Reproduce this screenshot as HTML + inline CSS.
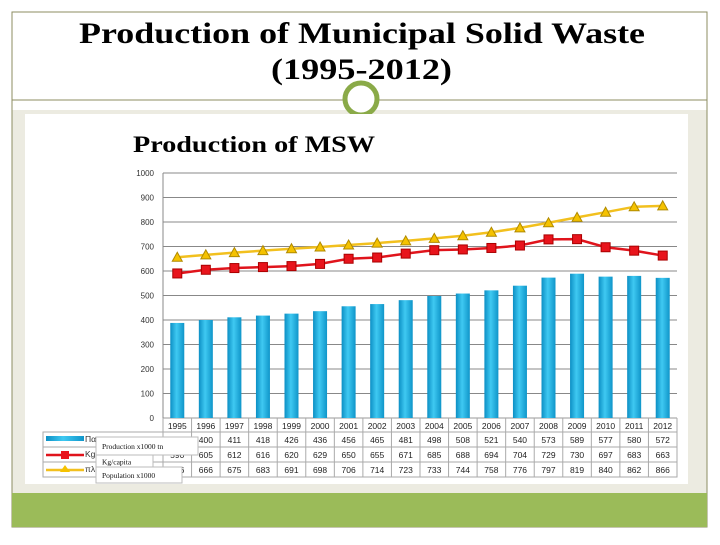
<!DOCTYPE html>
<html><head><meta charset="utf-8"><style>
body{margin:0;width:720px;height:540px;background:#fff;overflow:hidden;font-family:"Liberation Sans",sans-serif}
</style></head><body>
<svg width="720" height="540" xmlns="http://www.w3.org/2000/svg">
<defs>
<linearGradient id="bg" x1="0" x2="1"><stop offset="0" stop-color="#0c8fc4"/><stop offset="0.45" stop-color="#3fc9f2"/><stop offset="1" stop-color="#0f95c9"/></linearGradient>
</defs>
<rect x="12" y="12" width="695" height="515" fill="#fff" stroke="#8c8c62" stroke-width="1"/>
<rect x="12.5" y="110" width="694" height="383" fill="#ecebe1"/>
<rect x="12" y="493" width="695" height="34" fill="#9bbb59"/>
<line x1="12" y1="100" x2="707" y2="100" stroke="#8c8c62"/>
<circle cx="361" cy="99" r="16" fill="#fff" stroke="#8aaa48" stroke-width="5"/>
<text x="79" y="43" textLength="566" lengthAdjust="spacingAndGlyphs" font-family="Liberation Serif, serif" font-weight="bold" font-size="30">Production of Municipal Solid Waste</text>
<text x="271" y="79" textLength="181" lengthAdjust="spacingAndGlyphs" font-family="Liberation Serif, serif" font-weight="bold" font-size="30">(1995-2012)</text>
<rect x="25" y="114" width="663" height="370" fill="#fff"/>
<text x="133" y="152" textLength="242" lengthAdjust="spacingAndGlyphs" font-family="Liberation Serif, serif" font-weight="bold" font-size="23">Production of MSW</text>
<g id="chart"></g>
</svg>
<script>
const years=["1995","1996","1997","1998","1999","2000","2001","2002","2003","2004","2005","2006","2007","2008","2009","2010","2011","2012"];
const production=[388,400,411,418,426,436,456,465,481,498,508,521,540,573,589,577,580,572];
const kgCapita=[590,605,612,616,620,629,650,655,671,685,688,694,704,729,730,697,683,663];
const population=[656,666,675,683,691,698,706,714,723,733,744,758,776,797,819,840,862,866];
const yTicks=[0,100,200,300,400,500,600,700,800,900,1000];
const NS="http://www.w3.org/2000/svg";
const g=document.getElementById('chart');
const L=163,R=677,T=173,B=418;
const bw=(R-L)/years.length;
const x=i=>L+bw*(i+0.5);
const y=v=>B-(v/1000)*(B-T);
function el(t,a,p){const e=document.createElementNS(NS,t);for(const k in a)e.setAttribute(k,a[k]);(p||g).appendChild(e);return e;}
yTicks.forEach(v=>{
  const ln=el('line',{x1:L,x2:R,y1:y(v),y2:y(v),stroke:v===0?'#999':'#888','stroke-width':1});
  
  
  const t=el('text',{x:L-9,y:y(v)+3,'text-anchor':'end','font-size':8,fill:'#333'});t.textContent=v;
  
  
});
const ax=el('line',{x1:L,x2:L,y1:T,y2:B,stroke:'#888'});


production.forEach((v,i)=>{
  const r=el('rect',{x:x(i)-7,y:y(v),width:14,height:B-y(v),fill:'url(#bg)'});
  
  
});
function line(vals,color,name,marker){
  const p=el('polyline',{points:vals.map((v,i)=>x(i)+','+y(v)).join(' '),fill:'none',stroke:color,'stroke-width':2.5});
  
  
  vals.forEach((v,i)=>{
    let m;
    if(marker==='sq') m=el('rect',{x:x(i)-4.5,y:y(v)-4.5,width:9,height:9,fill:'#e8141c',stroke:'#a00'});
    else m=el('polygon',{points:`${x(i)},${y(v)-5} ${x(i)+5},${y(v)+4} ${x(i)-5},${y(v)+4}`,fill:'#f5c200',stroke:'#b08a00'});
    
    
  });
}
line(population,'#f2c01e','population','tri');
line(kgCapita,'#e0141c','kg-capita','sq');
const TL=43,rowY=[418,432,447,462,477];
const tb=el('rect',{x:TL,y:432,width:R-TL,height:45,fill:'none',stroke:'#aaa'});


rowY.slice(1,4).forEach(yy=>{const l=el('line',{x1:TL,x2:R,y1:yy,y2:yy,stroke:'#aaa'});});
for(let i=0;i<=years.length;i++){const l=el('line',{x1:L+bw*i,x2:L+bw*i,y1:418,y2:477,stroke:'#aaa'});}
const rows=[years,production,kgCapita,population];
rows.forEach((arr,r)=>arr.forEach((v,i)=>{
  const t=el('text',{x:x(i),y:rowY[r]+11,'text-anchor':'middle','font-size':8.5,fill:'#222'});t.textContent=v;
  
  
}));
const k1=el('rect',{x:46,y:436,width:38,height:5,fill:'url(#bg)'});
const k2=el('line',{x1:46,x2:84,y1:455,y2:455,stroke:'#e0141c','stroke-width':2.5});
const k2b=el('rect',{x:61,y:451,width:8,height:8,fill:'#e8141c'});
const k3=el('line',{x1:46,x2:84,y1:470,y2:470,stroke:'#f2c01e','stroke-width':2.5});
const k3b=el('polygon',{points:'65,465 70,472 60,472',fill:'#f5c200'});
[["Παραγω",442],["Kg/κατ",457],["πληθυσ",472]].forEach(([s,yy])=>{const t=el('text',{x:85,y:yy,'font-size':8.5,fill:'#333'});t.textContent=s;});
[["Production x1000 tn",96,437,102,18],["Kg/capita",96,455,57,13],["Population x1000",96,467,86,16]].forEach(([s,bx,by,w,h])=>{
  const b=el('rect',{x:bx,y:by,width:w,height:h,fill:'#fff',stroke:'#bbb'});
  
  
  const t=el('text',{x:bx+6,y:by+h/2+3,'font-size':7.5,'font-family':'Liberation Serif, serif',fill:'#111'});t.textContent=s;
  
  
});
</script>
</body></html>
